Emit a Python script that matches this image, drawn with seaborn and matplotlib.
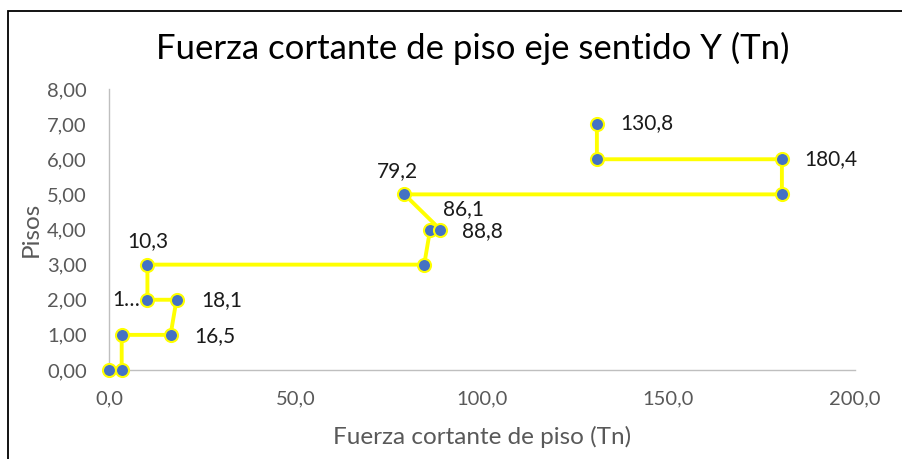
import matplotlib
matplotlib.use("Agg")
import matplotlib.pyplot as plt
import matplotlib.patches as mpatches
from matplotlib.ticker import FuncFormatter
import seaborn as sns
import pandas as pd

# Storey shear profile (Tn) against floor level
cortante = [0.0, 3.4, 3.4, 16.5, 18.1, 10.3, 10.3, 84.5, 86.1, 88.8, 79.2, 180.4, 180.4, 130.8, 130.8]
pisos = [0, 0, 1, 1, 2, 2, 3, 3, 4, 4, 5, 5, 6, 6, 7]
# Value labels shown next to some points ("" = no label)
etiquetas = ["", "", "", "16,5", "18,1", "1…", "10,3", "", "86,1", "88,8", "79,2", "", "180,4", "", "130,8"]

x_ticks = [0, 50, 100, 150, 200]
y_ticks = [0, 1, 2, 3, 4, 5, 6, 7, 8]

titulo = "Fuerza cortante de piso eje sentido Y (Tn)"
eje_x = "Fuerza cortante de piso (Tn)"
eje_y = "Pisos"

df = pd.DataFrame({"cortante": cortante, "piso": pisos})

sns.set_theme(style="white")
plt.rcParams["font.family"] = ["Lato", "DejaVu Sans"]

fig = plt.figure(figsize=(9.02, 4.59), dpi=100)
ax = fig.add_axes([109 / 902, 1 - 370 / 459, (855 - 109) / 902, (370 - 89) / 459])

sns.lineplot(data=df, x="cortante", y="piso", sort=False, estimator=None,
             color="#FFFF00", linewidth=2.8, marker="o", markersize=9.4,
             markerfacecolor="#4472C4", markeredgecolor="#FFFF00",
             markeredgewidth=1.5, ax=ax, zorder=3, clip_on=False)

# Label placement offsets (points) per labelled point
offsets = {
    "16,5": (17, -1, "left", "center"),
    "18,1": (18, 0, "left", "center"),
    "1…": (-5, 0, "right", "center"),
    "10,3": (0, 17, "center", "center"),
    "86,1": (9, 15, "left", "center"),
    "88,8": (16, -1, "left", "center"),
    "79,2": (-5, 17, "center", "center"),
    "180,4": (16, 0, "left", "center"),
    "130,8": (17, 1, "left", "center"),
}
for xv, yv, lab in zip(cortante, pisos, etiquetas):
    if not lab:
        continue
    dx, dy, ha, va = offsets[lab]
    ax.annotate(lab, (xv, yv), xytext=(dx, dy), textcoords="offset points",
                ha=ha, va=va, fontsize=15, color="#1a1a1a")

ax.set_xlim(0, 200)
ax.set_ylim(0, 8)
ax.set_xticks(x_ticks)
ax.set_yticks(y_ticks)
ax.xaxis.set_major_formatter(FuncFormatter(lambda v, p: f"{v:.1f}".replace(".", ",")))
ax.yaxis.set_major_formatter(FuncFormatter(lambda v, p: f"{v:.2f}".replace(".", ",")))
ax.tick_params(axis="both", length=0, labelsize=14.5, labelcolor="#595959")
ax.tick_params(axis="x", pad=15)
ax.tick_params(axis="y", pad=16)

for s in ["top", "right"]:
    ax.spines[s].set_visible(False)
for s in ["left", "bottom"]:
    ax.spines[s].set_color("#BFBFBF")
    ax.spines[s].set_linewidth(1.0)
ax.grid(False)

ax.set_xlabel(eje_x, fontsize=17.5, color="#595959", labelpad=13)
ax.set_ylabel(eje_y, fontsize=17.5, color="#595959", labelpad=4)

fig.text(473 / 902, 1 - 48 / 459, titulo, ha="center", va="center",
         fontsize=25, color="#000000")

# Chart frame
fig.patches.append(mpatches.Rectangle((8 / 902, -0.1), 1.2, 1 - 11 / 459 + 0.1,
                                      transform=fig.transFigure, fill=False,
                                      edgecolor="black", linewidth=1.3))

fig.savefig("out.png", dpi=100)
